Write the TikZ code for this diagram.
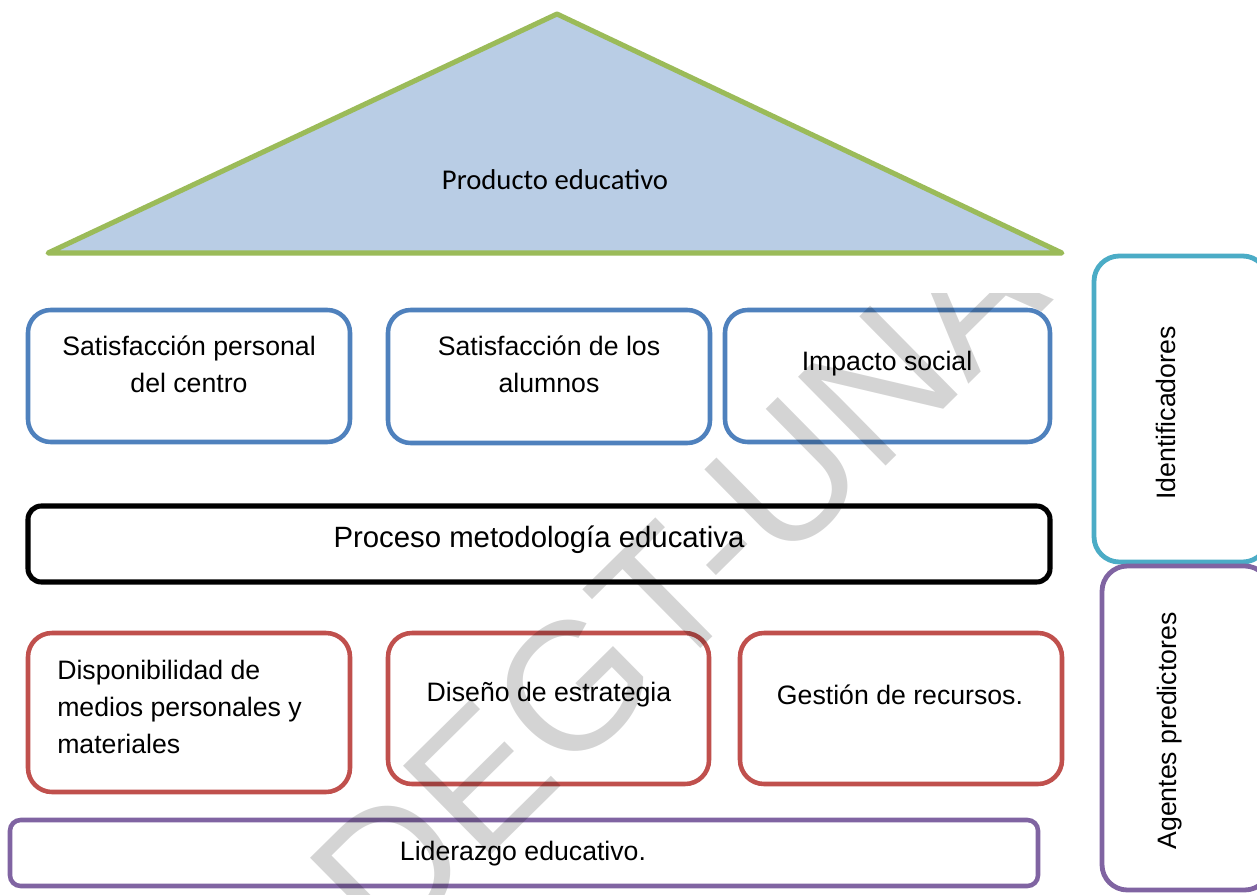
\documentclass[tikz,border=0pt]{standalone}
\usepackage{fontspec}
\setmainfont{Liberation Sans}
\newfontfamily\calibri{Carlito}
\usetikzlibrary{fit}
\definecolor{cblue}{HTML}{4F81BD}
\definecolor{cred}{HTML}{C0504D}
\definecolor{cgreen}{HTML}{9BBB59}
\definecolor{cfill}{HTML}{B9CDE5}
\definecolor{cpurple}{HTML}{8064A2}
\definecolor{ccyan}{HTML}{4BACC6}
\tikzset{
  box/.style={draw, line width=3.4pt, inner sep=0pt, fill=white},
  bluebox/.style={box, draw=cblue, rounded corners=17pt},
  redbox/.style={box, draw=cred, rounded corners=18pt},
  blackbox/.style={box, draw=black, line width=3.8pt, rounded corners=10pt},
  purplebox/.style={box, draw=cpurple, rounded corners=8pt},
  sidebox/.style={box, line width=3.6pt, rounded corners=19pt},
  txt/.style={inner sep=0pt, font=\fontsize{20}{27.5}\selectfont, align=center},
  bigtxt/.style={inner sep=0pt, font=\fontsize{22}{28}\selectfont},
  wmark/.style={inner sep=0pt, font=\fontsize{136}{140}\selectfont, text=black, text opacity=0.17, rotate=44.6},
}
\begin{document}
\begin{tikzpicture}[x=0.75pt, y=-0.75pt]
\useasboundingbox (0,0) rectangle (1257,895);
\clip (0,0) rectangle (1257,895);
\fill[white] (0,0) rectangle (1257,895);

% triangle
\coordinate (apex) at (557,14);
\coordinate (bl) at (48,253);
\coordinate (br) at (1062,253);
\draw[cgreen, fill=cfill, line width=3.8pt, line join=round] (apex) -- (bl) -- (br) -- cycle;
\node[inner sep=0pt, font=\calibri\fontsize{21.5}{26}\selectfont] (prod) at (555,180) {Producto educativo};

% identificadores (blue)
\node[bluebox, fit={(28,310) (350,442)}] (b1) {};
\node[bluebox, fit={(388,310) (710,443)}] (b2) {};
\node[bluebox, fit={(725,310) (1050,442)}] (b3) {};
\node[txt] (t1) at (189,364) {Satisfacción personal\\del centro};
\node[txt] (t2) at (549,364) {Satisfacción de los\\alumnos};
\node[txt] (t3) at (887,364) {Impacto social};

% proceso
\node[blackbox, fit={(28,506) (1050,582)}] (proc) {};
\node[bigtxt] (tp) at (539,540) {Proceso metodología educativa};

% predictores (red)
\node[redbox, fit={(28,633) (350,792)}] (r1) {};
\node[redbox, fit={(388,633) (709,784)}] (r2) {};
\node[redbox, fit={(740,633) (1062,784)}] (r3) {};
\node[txt, align=left, anchor=west] (tr1) at (57,707) {Disponibilidad de\\medios personales y\\materiales};
\node[txt] (tr2) at (549,695) {Diseño de estrategia};
\node[txt] (tr3) at (900,695) {Gestión de recursos.};

% liderazgo
\node[purplebox, fit={(10,820) (1038,886)}] (lid) {};
\node[txt] (tl) at (523,854) {Liderazgo educativo.};

% side boxes
\node[sidebox, draw=ccyan, fit={(1094,256) (1268,562)}] (ident) {};
\node[sidebox, draw=cpurple, fit={(1102,566) (1270,890)}] (agent) {};
\node[txt, rotate=90] (ti) at (1166,413) {Identificadores};
\node[txt, rotate=90] (ta) at (1170,731) {Agentes predictores};

% watermark
\begin{scope}
\clip (0,293) rectangle (1090,895);
\node[wmark] (wm) at (724,538) {DEGT-UNAN};
\end{scope}
\end{tikzpicture}
\end{document}
